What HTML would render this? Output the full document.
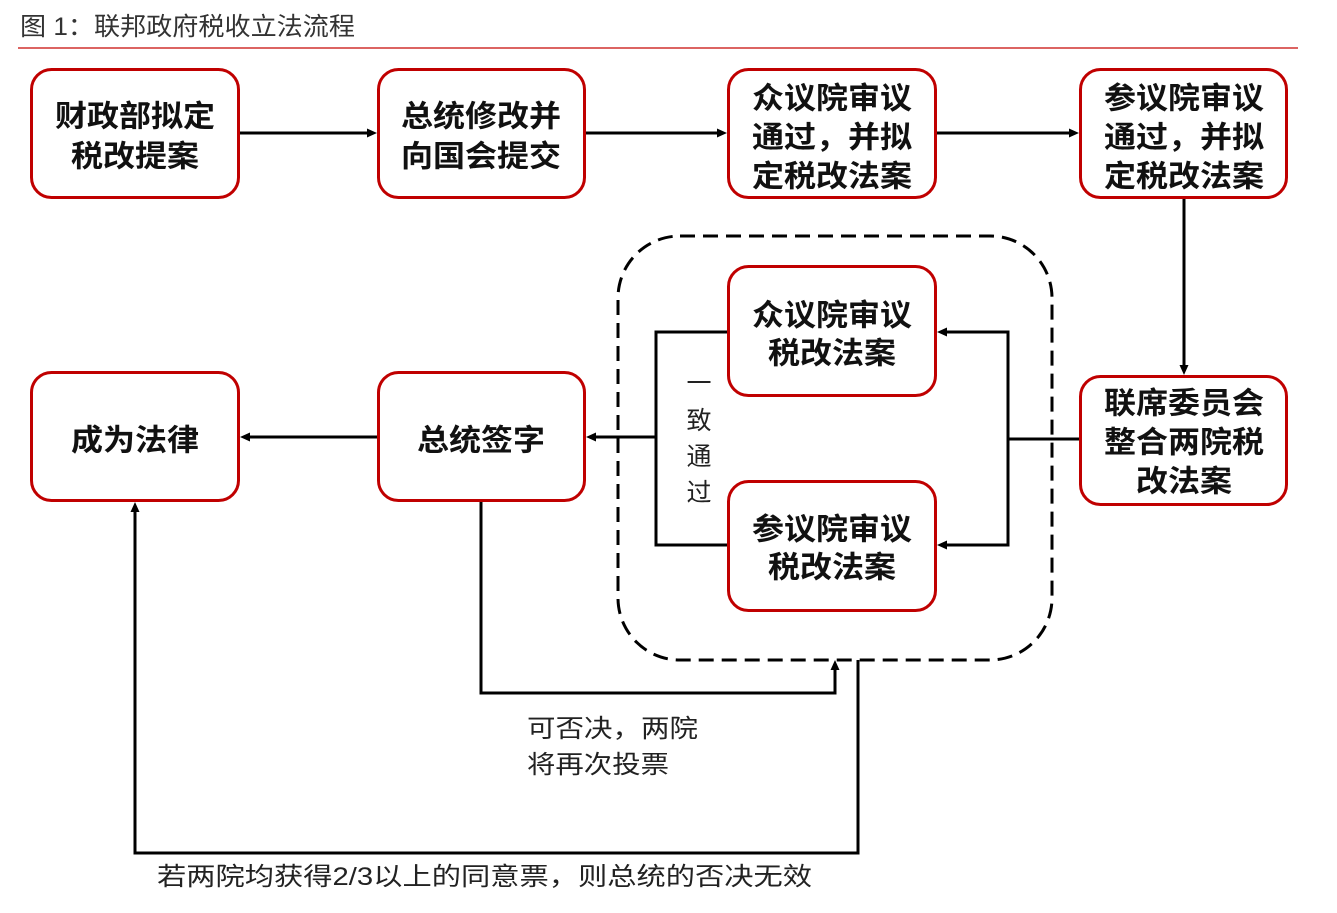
<!DOCTYPE html>
<html>
<head>
<meta charset="utf-8">
<style>
  html,body{margin:0;padding:0;background:#fff;}
  svg{display:block;}
  text{font-family:"Liberation Sans","Noto Sans CJK SC","WenQuanYi Zen Hei",sans-serif;}
  .bx{fill:#fff;stroke:#c00000;stroke-width:3;}
  .bt{font-size:30px;font-weight:700;fill:#111;text-anchor:middle;dominant-baseline:central;}
  .ln{stroke:#000;stroke-width:3;fill:none;}
  .ah{fill:#000;}
  .lt{font-size:25px;fill:#222;dominant-baseline:central;}
</style>
</head>
<body>
<svg width="1337" height="913" viewBox="0 0 1337 913" xmlns="http://www.w3.org/2000/svg">
  <!-- Title -->
  <text x="20" y="27" style="font-size:25px;fill:#333;dominant-baseline:central;" textLength="335" lengthAdjust="spacingAndGlyphs">图 1：联邦政府税收立法流程</text>
  <line x1="18" y1="48" x2="1298" y2="48" stroke="#d0302f" stroke-width="1.6"/>

  <!-- Dashed group -->
  <rect x="618" y="236" width="434" height="424" rx="62" ry="62" fill="none" stroke="#000" stroke-width="3" stroke-dasharray="15 8"/>

  <!-- Row 1 arrows -->
  <line class="ln" x1="240" y1="133" x2="369" y2="133"/>
  <polygon class="ah" points="377,133 367,128.5 367,137.5"/>
  <line class="ln" x1="586" y1="133" x2="719" y2="133"/>
  <polygon class="ah" points="727,133 717,128.5 717,137.5"/>
  <line class="ln" x1="937" y1="133" x2="1071" y2="133"/>
  <polygon class="ah" points="1079,133 1069,128.5 1069,137.5"/>
  <!-- Down arrow -->
  <line class="ln" x1="1184" y1="199" x2="1184" y2="367"/>
  <polygon class="ah" points="1184,375 1179.5,365 1188.5,365"/>
  <!-- 联席 to two houses -->
  <line class="ln" x1="1079" y1="439" x2="1008" y2="439"/>
  <line class="ln" x1="1008" y1="330.5" x2="1008" y2="546.5"/>
  <line class="ln" x1="1009.5" y1="332" x2="945" y2="332"/>
  <polygon class="ah" points="937,332 947,327.5 947,336.5"/>
  <line class="ln" x1="1009.5" y1="545" x2="945" y2="545"/>
  <polygon class="ah" points="937,545 947,540.5 947,549.5"/>
  <!-- Left bracket -->
  <line class="ln" x1="727" y1="332" x2="654.5" y2="332"/>
  <line class="ln" x1="727" y1="545" x2="654.5" y2="545"/>
  <line class="ln" x1="656" y1="330.5" x2="656" y2="546.5"/>
  <line class="ln" x1="656" y1="437" x2="594" y2="437"/>
  <polygon class="ah" points="586,437 596,432.5 596,441.5"/>
  <!-- 总统签字 -> 成为法律 -->
  <line class="ln" x1="377" y1="437" x2="248" y2="437"/>
  <polygon class="ah" points="240,437 250,432.5 250,441.5"/>
  <!-- Veto loop -->
  <polyline class="ln" points="481,502 481,693 835,693 835,669"/>
  <polygon class="ah" points="835,660 830.5,670 839.5,670"/>
  <!-- Override loop -->
  <polyline class="ln" points="858,660 858,853 135,853 135,511"/>
  <polygon class="ah" points="135,502 130.5,512 139.5,512"/>

  <!-- Boxes row 1 -->
  <rect class="bx" x="31.5" y="69.5" width="207" height="128" rx="20"/>
  <text class="bt" x="135" y="117" textLength="160" lengthAdjust="spacingAndGlyphs">财政部拟定</text>
  <text class="bt" x="135" y="157" textLength="128" lengthAdjust="spacingAndGlyphs">税改提案</text>

  <rect class="bx" x="378.5" y="69.5" width="206" height="128" rx="20"/>
  <text class="bt" x="481" y="117" textLength="160" lengthAdjust="spacingAndGlyphs">总统修改并</text>
  <text class="bt" x="481" y="157" textLength="160" lengthAdjust="spacingAndGlyphs">向国会提交</text>

  <rect class="bx" x="728.5" y="69.5" width="207" height="128" rx="20"/>
  <text class="bt" x="832" y="99" textLength="160" lengthAdjust="spacingAndGlyphs">众议院审议</text>
  <text class="bt" x="832" y="138" textLength="160" lengthAdjust="spacingAndGlyphs">通过，并拟</text>
  <text class="bt" x="832" y="177" textLength="160" lengthAdjust="spacingAndGlyphs">定税改法案</text>

  <rect class="bx" x="1080.5" y="69.5" width="206" height="128" rx="20"/>
  <text class="bt" x="1184" y="99" textLength="160" lengthAdjust="spacingAndGlyphs">参议院审议</text>
  <text class="bt" x="1184" y="138" textLength="160" lengthAdjust="spacingAndGlyphs">通过，并拟</text>
  <text class="bt" x="1184" y="177" textLength="160" lengthAdjust="spacingAndGlyphs">定税改法案</text>

  <!-- Inner boxes -->
  <rect class="bx" x="728.5" y="266.5" width="207" height="129" rx="20"/>
  <text class="bt" x="832" y="316" textLength="160" lengthAdjust="spacingAndGlyphs">众议院审议</text>
  <text class="bt" x="832" y="354" textLength="128" lengthAdjust="spacingAndGlyphs">税改法案</text>

  <rect class="bx" x="728.5" y="481.5" width="207" height="129" rx="20"/>
  <text class="bt" x="832" y="530" textLength="160" lengthAdjust="spacingAndGlyphs">参议院审议</text>
  <text class="bt" x="832" y="568" textLength="128" lengthAdjust="spacingAndGlyphs">税改法案</text>

  <!-- 联席委员会 -->
  <rect class="bx" x="1080.5" y="376.5" width="206" height="128" rx="20"/>
  <text class="bt" x="1184" y="404" textLength="160" lengthAdjust="spacingAndGlyphs">联席委员会</text>
  <text class="bt" x="1184" y="443" textLength="160" lengthAdjust="spacingAndGlyphs">整合两院税</text>
  <text class="bt" x="1184" y="482" textLength="96" lengthAdjust="spacingAndGlyphs">改法案</text>

  <!-- Row 2 -->
  <rect class="bx" x="31.5" y="372.5" width="207" height="128" rx="20"/>
  <text class="bt" x="135" y="441" textLength="128" lengthAdjust="spacingAndGlyphs">成为法律</text>

  <rect class="bx" x="378.5" y="372.5" width="206" height="128" rx="20"/>
  <text class="bt" x="481" y="441" textLength="128" lengthAdjust="spacingAndGlyphs">总统签字</text>

  <!-- Vertical label -->
  <g style="font-size:25px;fill:#222;text-anchor:middle;dominant-baseline:central;">
    <text x="699" y="384">一</text>
    <text x="699" y="421">致</text>
    <text x="699" y="457">通</text>
    <text x="699" y="493">过</text>
  </g>

  <!-- Labels -->
  <text class="lt" x="527" y="729" textLength="171" lengthAdjust="spacingAndGlyphs">可否决，两院</text>
  <text class="lt" x="527" y="765" textLength="142" lengthAdjust="spacingAndGlyphs">将再次投票</text>
  <text class="lt" x="157" y="877" textLength="655" lengthAdjust="spacingAndGlyphs">若两院均获得2/3以上的同意票，则总统的否决无效</text>
</svg>
</body>
</html>
